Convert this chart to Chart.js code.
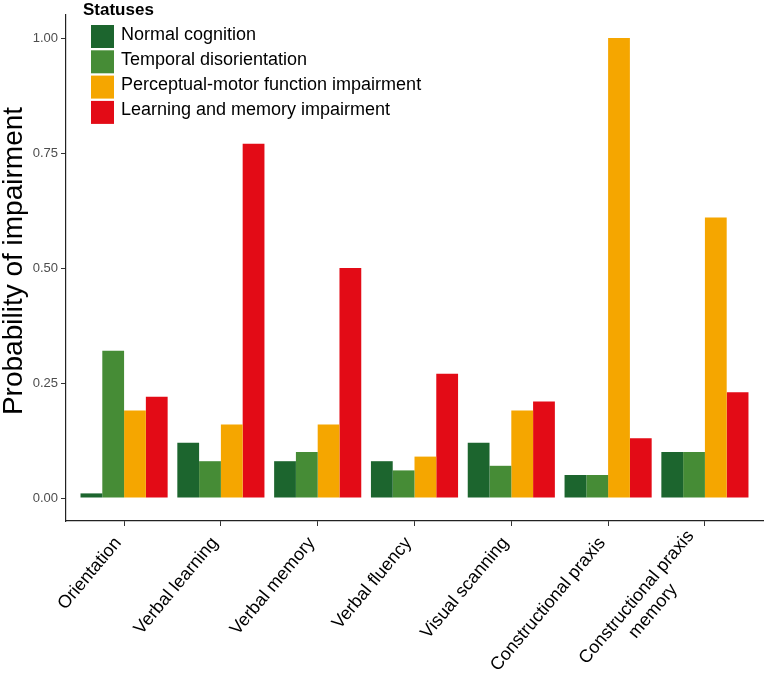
<!DOCTYPE html>
<html lang="en">
<head>
<meta charset="UTF-8">
<title>Probability of impairment</title>
<script src="https://cdn.jsdelivr.net/npm/chart.js"></script>
<style>
  html, body { margin: 0; padding: 0; background: #fff; }
  #wrap { width: 764px; height: 676px; }
</style>
</head>
<body>
<div id="wrap"><canvas id="impChart"></canvas></div>
<script>
const categories = ['Orientation', 'Verbal learning', 'Verbal memory', 'Verbal fluency',
    'Visual scanning', 'Constructional praxis', ['Constructional praxis', 'memory']];
const statuses = ['Normal cognition', 'Temporal disorientation',
    'Perceptual-motor function impairment', 'Learning and memory impairment'];
const normalCognition        = [0.01, 0.12, 0.08, 0.08, 0.12, 0.05, 0.10];
const temporalDisorientation = [0.32, 0.08, 0.10, 0.06, 0.07, 0.05, 0.10];
const perceptualMotor        = [0.19, 0.16, 0.16, 0.09, 0.19, 1.00, 0.61];
const learningMemory         = [0.22, 0.77, 0.50, 0.27, 0.21, 0.13, 0.23];
const yTicks = [0, 0.25, 0.5, 0.75, 1];
const colors = ['#1c652e', '#468c36', '#f5a600', '#e30b16'];

const FONT = '"Liberation Sans", Arial, Helvetica, sans-serif';
Chart.defaults.font.family = FONT;

// x is a linear index axis so the ends get ggplot's 0.6 expansion
const series = [normalCognition, temporalDisorientation, perceptualMotor, learningMemory];
const datasets = series.map((vals, i) => ({
    label: statuses[i],
    data: vals.map((v, k) => ({ x: k, y: v })),
    backgroundColor: colors[i],
    borderWidth: 0,
    barPercentage: 1,
    categoryPercentage: 0.9
}));

// legend drawn inside the plot, top-left
const statusLegend = {
    id: 'statusLegend',
    afterDraw(chart) {
        const ctx = chart.ctx;
        ctx.save();
        ctx.textAlign = 'left';
        ctx.textBaseline = 'alphabetic';
        ctx.fillStyle = '#000';
        ctx.font = 'bold 17px ' + FONT;
        ctx.fillText('Statuses', 83, 15);
        ctx.font = '18px ' + FONT;
        chart.data.datasets.forEach((ds, i) => {
            const y = 25 + i * 25.3;
            ctx.fillStyle = ds.backgroundColor;
            ctx.fillRect(91, y, 23, 23);
            ctx.fillStyle = '#000';
            ctx.fillText(ds.label, 121, y + 14.5);
        });
        ctx.restore();
    }
};

// ggplot style anchoring: label end sits just under the tick, 2-line labels centred
const labelTweak = {
    id: 'labelTweak',
    beforeDraw(chart) {
        const ctx = chart.ctx;
        chart.scales.x.getLabelItems().forEach(item => {
            if (item._done) return;
            item._done = true;
            const o = item.options;
            const rot = o.rotation;
            let tx = o.translation[0] - 6, ty = o.translation[1] + 5;
            if (Array.isArray(item.label)) {
                ctx.save();
                ctx.font = item.font.string;
                const w = ctx.measureText(item.label[0]).width;
                ctx.restore();
                tx -= Math.cos(rot) * w / 2;
                ty -= Math.sin(rot) * w / 2;
                o.textAlign = 'center';
                item.textOffset -= item.font.lineHeight * (item.label.length - 1) / 2;
            }
            o.translation = [tx, ty];
        });
        const ys = chart.scales.y;
        if (!ys._titleShifted) {
            const orig = ys.drawTitle;
            ys.drawTitle = function () {
                this.ctx.save();
                this.ctx.translate(0, -7);
                orig.call(this);
                this.ctx.restore();
            };
            ys._titleShifted = true;
        }
    }
};

const chart = new Chart(document.getElementById('impChart'), {
    type: 'bar',
    data: { datasets: datasets },
    plugins: [statusLegend, labelTweak],
    options: {
        responsive: true,
        maintainAspectRatio: false,
        animation: false,
        layout: { padding: { top: 15, right: 1, left: 0, bottom: 0 } },
        plugins: {
            legend: { display: false },
            tooltip: { enabled: false }
        },
        scales: {
            x: {
                type: 'linear',
                min: -0.6,
                max: 6.6,
                offset: false,
                afterBuildTicks: (scale) => { scale.ticks = categories.map((c, i) => ({ value: i })); },
                afterFit: (scale) => { scale.height = 155; },
                ticks: {
                    autoSkip: false,
                    minRotation: 50,
                    maxRotation: 50,
                    padding: 2,
                    color: '#000',
                    font: { size: 18 },
                    callback: (v) => categories[v]
                },
                grid: { display: true, offset: false, drawOnChartArea: false, drawTicks: true, tickLength: 5, tickColor: '#333', tickWidth: 1 },
                border: { display: true, color: '#222', width: 1.2 }
            },
            y: {
                min: -0.05,
                max: 1.05,
                afterBuildTicks: (scale) => { scale.ticks = yTicks.map(v => ({ value: v })); },
                afterFit: (scale) => { scale.width = 66; },
                ticks: {
                    padding: 3,
                    color: '#4d4d4d',
                    font: { size: 13 },
                    callback: (v) => v.toFixed(2)
                },
                grid: { display: true, drawOnChartArea: false, drawTicks: true, tickLength: 5, tickColor: '#333', tickWidth: 1 },
                border: { display: true, color: '#222', width: 1.2 },
                title: {
                    display: true,
                    text: 'Probability of impairment',
                    color: '#000',
                    font: { size: 28, lineHeight: 1 },
                    padding: 0
                }
            }
        }
    }
});
</script>
</body>
</html>
